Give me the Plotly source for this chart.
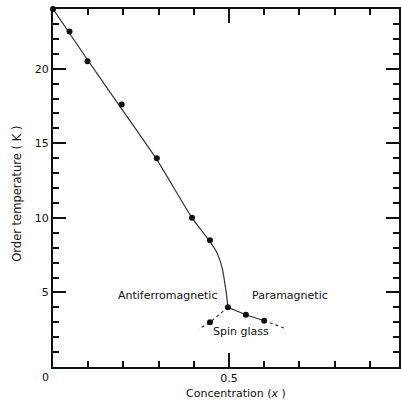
import plotly.graph_objects as go

# Measured data points (concentration x, order temperature K)
pt_x = [0.0, 0.047, 0.098, 0.195, 0.295, 0.395, 0.446, 0.497, 0.548, 0.6, 0.446]
pt_y = [24.0, 22.5, 20.5, 17.6, 14.0, 10.0, 8.5, 4.0, 3.5, 3.1, 3.0]

# Antiferromagnetic boundary (solid curve)
af_x = [0.0, 0.098, 0.195, 0.295, 0.395, 0.446, 0.467, 0.481, 0.492, 0.497]
af_y = [24.0, 20.6, 17.3, 13.9, 10.0, 8.4, 7.6, 6.6, 5.0, 4.0]

# Paramagnetic / spin glass boundary (solid part)
pg_x = [0.497, 0.548, 0.6]
pg_y = [4.0, 3.5, 3.1]

# Dashed extensions
dr_x = [0.6, 0.664]
dr_y = [3.1, 2.55]
dl_x = [0.497, 0.446, 0.415]
dl_y = [4.0, 3.0, 2.55]

y_ticks = [5, 10, 15, 20]
x_ticks = [0.5]
x_ticklabels = ["0.5"]

labels = ["Antiferromagnetic", "Paramagnetic", "Spin glass"]
label_x = [0.325, 0.672, 0.534]
label_y = [4.77, 4.77, 2.35]

FONT = "DejaVu Sans"
INK = "#111111"

fig = go.Figure()
fig.add_trace(go.Scatter(x=af_x, y=af_y, mode="lines",
                         line=dict(color="#333333", width=1.2, shape="spline", smoothing=0.6),
                         hoverinfo="skip", showlegend=False))
fig.add_trace(go.Scatter(x=pg_x, y=pg_y, mode="lines",
                         line=dict(color="#333333", width=1.2),
                         hoverinfo="skip", showlegend=False))
fig.add_trace(go.Scatter(x=dr_x, y=dr_y, mode="lines",
                         line=dict(color="#333333", width=1.1, dash="3px,3px"),
                         hoverinfo="skip", showlegend=False))
fig.add_trace(go.Scatter(x=dl_x, y=dl_y, mode="lines",
                         line=dict(color="#333333", width=1.1, dash="3px,3px"),
                         hoverinfo="skip", showlegend=False))
fig.add_trace(go.Scatter(x=pt_x, y=pt_y, mode="markers",
                         marker=dict(color=INK, size=6),
                         cliponaxis=False, showlegend=False))

for t, lx, ly in zip(labels, label_x, label_y):
    fig.add_annotation(x=lx, y=ly, text=t, showarrow=False,
                       font=dict(family=FONT, size=11, color=INK))

# shared origin label
fig.add_annotation(x=0, y=0, text="0", showarrow=False, xshift=-8, yshift=-10,
                   font=dict(family=FONT, size=11, color=INK))
# axis titles
fig.add_annotation(x=0.52, y=0, yref="y", text="Concentration (<i>x</i> )", showarrow=False,
                   yshift=-26, font=dict(family=FONT, size=11, color=INK))
fig.add_annotation(x=-0.103, xref="paper", y=0.485, yref="paper",
                   xanchor="center", yanchor="middle",
                   text="Order temperature ( K )", showarrow=False,
                   textangle=-90, font=dict(family=FONT, size=11.5, color=INK))

fig.update_layout(
    width=401, height=403,
    margin=dict(l=53, r=0, t=9, b=36),
    paper_bgcolor="white", plot_bgcolor="white",
    font=dict(family=FONT, size=11, color=INK),
    xaxis=dict(range=[0, 0.983], showgrid=False, zeroline=False,
               showline=True, linecolor=INK, linewidth=2, mirror="ticks",
               ticks="inside", tickmode="array", tickvals=x_ticks, ticktext=x_ticklabels,
               ticklen=14, tickwidth=1.5, tickcolor=INK,
               minor=dict(dtick=0.1, tick0=0, ticks="inside", ticklen=6, tickwidth=1.5,
                          tickcolor=INK, showgrid=False),
               tickfont=dict(family=FONT, size=11, color=INK)),
    yaxis=dict(range=[0, 24], showgrid=False, zeroline=False,
               showline=True, linecolor=INK, linewidth=2, mirror="ticks",
               ticks="inside", tickmode="array", tickvals=y_ticks,
               ticklen=13, tickwidth=1.5, tickcolor=INK,
               minor=dict(dtick=1, tick0=0, ticks="inside", ticklen=6, tickwidth=1.5,
                          tickcolor=INK, showgrid=False),
               tickfont=dict(family=FONT, size=11, color=INK)),
)

fig.write_html("out.html", config={"displayModeBar": False},
               post_script="document.body.style.margin='0';document.body.style.overflow='hidden';")
